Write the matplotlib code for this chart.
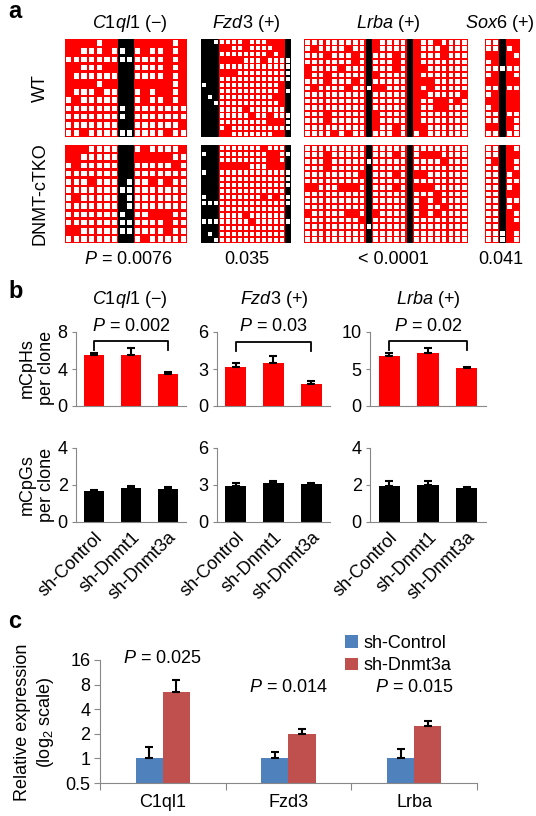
import matplotlib
matplotlib.use('Agg')
import matplotlib.pyplot as plt
from matplotlib.patches import Rectangle
from matplotlib.collections import PatchCollection
from matplotlib.ticker import FixedLocator, NullLocator
import numpy as np

plt.rcParams['font.family'] = ['Liberation Sans', 'DejaVu Sans']
plt.rcParams['mathtext.fontset'] = 'custom'
plt.rcParams['mathtext.rm'] = 'Liberation Sans'
plt.rcParams['mathtext.it'] = 'Liberation Sans:italic'
plt.rcParams['mathtext.bf'] = 'Liberation Sans:bold'

# ---------------- data: panel a (1 = methylated, 0 = unmethylated) ----------------
genes_a = ['C1ql1', 'Fzd3', 'Lrba', 'Sox6']
signs_a = ['\u2212', '+', '+', '+']
pvals_a = ['$P$ = 0.0076', '0.035', '< 0.0001', '0.041']
# column types: H = CpH site (red), G = CpG site (black)
types_c1ql1 = 'HHHHHHHGGHHHHHHH'
types_fzd3 = 'GGGHHHHHHHHHHHG'
types_lrba = 'HHHHHHHHHGHHHHHGHHHHHHHH'
types_sox6 = 'HHGHH'

c1ql1_wt = [
    '1111011' + '11' + '1111101',
    '1100010' + '01' + '0100101',
    '0000000' + '00' + '0000101',
    '1100011' + '11' + '0000101',
    '1000000' + '11' + '0000101',
    '1111011' + '11' + '1111101',
    '1000100' + '11' + '0101101',
    '0100000' + '11' + '0100101',
    '0000000' + '01' + '0000000',
    '0000000' + '01' + '0000000',
    '0000000' + '11' + '0000001',
    '0010000' + '00' + '0000100',
]
c1ql1_ko = [
    '1110000' + '11' + '0100001',
    '1100000' + '11' + '1111100',
    '0100000' + '11' + '0000010',
    '0000000' + '11' + '0000000',
    '0001000' + '10' + '0010100',
    '0000000' + '00' + '0000000',
    '0100000' + '10' + '0000000',
    '0000000' + '10' + '0000000',
    '0000000' + '01' + '0011100',
    '0000000' + '00' + '0000100',
    '1100000' + '00' + '0000100',
    '0000000' + '11' + '0100000',
]
fzd3_wt = [
    '110' + '00001000111' + '1',
    '111' + '11001000011' + '1',
    '111' + '00000000101' + '1',
    '111' + '11110001000' + '0',
    '111' + '00000000000' + '0',
    '111' + '11100000000' + '0',
    '111' + '00000000000' + '0',
    '011' + '00000000001' + '1',
    '111' + '00000000001' + '0',
    '101' + '00000000011' + '1',
    '110' + '00000000001' + '1',
    '111' + '00001000000' + '1',
    '111' + '00000100100' + '0',
    '111' + '00000000111' + '0',
    '111' + '01000000000' + '0',
    '111' + '11000000011' + '1',
]
fzd3_ko = [
    '111' + '00000001000' + '1',
    '011' + '00000000110' + '0',
    '111' + '00000000110' + '1',
    '111' + '11111000111' + '1',
    '011' + '00000000000' + '0',
    '111' + '00000000000' + '0',
    '111' + '00000000000' + '0',
    '111' + '00000000000' + '1',
    '011' + '00000001010' + '0',
    '000' + '00000000000' + '0',
    '111' + '00000000000' + '1',
    '111' + '00001000000' + '1',
    '000' + '00000100000' + '0',
    '111' + '00000000000' + '1',
    '101' + '00000000000' + '1',
    '110' + '00000000000' + '1',
]
lrba_wt = [
    '000000000' + '1' + '10000' + '1' + '10010000',
    '010000100' + '1' + '10000' + '1' + '10001000',
    '000100010' + '1' + '00010' + '1' + '10001000',
    '000000010' + '1' + '00010' + '1' + '10000000',
    '100001000' + '1' + '00010' + '1' + '11000000',
    '100100000' + '1' + '10000' + '1' + '10000000',
    '000100010' + '1' + '00000' + '1' + '11100000',
    '010000100' + '0' + '11000' + '1' + '10100000',
    '000000000' + '1' + '00000' + '1' + '11000001',
    '000000000' + '1' + '00000' + '1' + '10011010',
    '000000000' + '1' + '00000' + '1' + '10011000',
    '000100000' + '1' + '10000' + '1' + '10000000',
    '000100000' + '1' + '10000' + '1' + '10000000',
    '000000000' + '1' + '10010' + '1' + '11000000',
    '000010100' + '1' + '00010' + '1' + '01000000',
]
lrba_ko = [
    '000000000' + '1' + '00000' + '1' + '00000000',
    '000100000' + '1' + '00010' + '1' + '01110000',
    '000100000' + '0' + '00000' + '1' + '00001000',
    '000100000' + '1' + '00000' + '1' + '00000000',
    '000000001' + '1' + '00010' + '1' + '11000000',
    '000000000' + '1' + '00000' + '1' + '00000000',
    '110001110' + '1' + '00010' + '1' + '11100000',
    '000000000' + '1' + '00000' + '1' + '00010000',
    '000000000' + '1' + '00000' + '1' + '01010000',
    '000000000' + '1' + '00000' + '1' + '01001000',
    '100000110' + '1' + '10000' + '1' + '01010000',
    '000000001' + '1' + '00000' + '1' + '00000000',
    '000000000' + '0' + '00000' + '1' + '00000000',
    '000000000' + '1' + '00000' + '1' + '00000000',
    '000000000' + '1' + '00000' + '1' + '00000000',
]
sox6_wt = ['00111', '00101', '11110', '01111', '00000', '01110', '11111', '00100',
           '01111', '11111', '01111', '00100', '00110', '11110', '00100']
sox6_ko = ['00110', '00111', '01110', '00110', '00101', '00100', '00101', '00111',
           '00100', '00101', '00110', '00110', '00111', '00010', '00010']

# ---------------- data: panel b ----------------
b_genes = ['C1ql1', 'Fzd3', 'Lrba']
b_signs = ['\u2212', '+', '+']
b_groups = ['sh-Control', 'sh-Dnmt1', 'sh-Dnmt3a']
cph_vals = [[5.5, 5.5, 3.5], [3.2, 3.5, 1.8], [6.8, 7.2, 5.1]]
cph_errs = [[0.2, 0.8, 0.2], [0.3, 0.55, 0.2], [0.3, 0.6, 0.2]]
cpg_vals = [[1.65, 1.85, 1.8], [2.95, 3.15, 3.05], [1.95, 2.0, 1.85]]
cpg_errs = [[0.1, 0.1, 0.1], [0.25, 0.2, 0.1], [0.25, 0.2, 0.05]]
cph_ymax = [8, 6, 10]
cpg_ymax = [4, 6, 4]
b_pvals = ['$P$ = 0.002', '$P$ = 0.03', '$P$ = 0.02']
bracket_y = [7.0, 5.2, 8.8]

# ---------------- data: panel c ----------------
c_genes = ['C1ql1', 'Fzd3', 'Lrba']
c_ctrl = [1.0, 1.0, 1.0]
c_ctrl_err = [0.39, 0.21, 0.29]
c_kd = [6.55, 1.97, 2.49]
c_kd_err = [2.55, 0.30, 0.38]
c_pvals = ['$P$ = 0.025', '$P$ = 0.014', '$P$ = 0.015']
c_yticks = [0.5, 1, 2, 4, 8, 16]

# ---------------- figure ----------------
W, H = 536, 816
fig = plt.figure(figsize=(W / 100, H / 100), dpi=100)
RED = '#FF0000'


def px_axes(x0, y0, x1, y1):
    return fig.add_axes([x0 / W, 1 - y1 / H, (x1 - x0) / W, (y1 - y0) / H])


def ftext(x, y, s, **kw):
    kw.setdefault('ha', 'center')
    kw.setdefault('va', 'center')
    return fig.text(x / W, 1 - y / H, s, **kw)


def draw_grid(ax, types, rows, m=0.16):
    nr, nc = len(rows), len(types)
    base = []
    base_c = []
    for j, t in enumerate(types):
        base.append(Rectangle((j, 0), 1, nr))
        base_c.append('black' if t == 'G' else RED)
    ax.add_collection(PatchCollection(base, facecolors=base_c, edgecolors='none'))
    holes = []
    for i, row in enumerate(rows):
        for j, ch in enumerate(row):
            if ch == '0':
                holes.append(Rectangle((j + m, i + m * 0.9), 1 - 2 * m, 1 - 2 * m * 0.9))
    ax.add_collection(PatchCollection(holes, facecolors='white', edgecolors='none'))
    ax.set_xlim(0, nc)
    ax.set_ylim(nr, 0)
    ax.axis('off')


# panel a
ftext(8, 12, 'a', fontsize=17, fontweight='bold', ha='left')
grid_x = [(65, 187), (201, 291), (304, 468), (485, 520)]
types_all = [types_c1ql1, types_fzd3, types_lrba, types_sox6]
wt_all = [c1ql1_wt, fzd3_wt, lrba_wt, sox6_wt]
ko_all = [c1ql1_ko, fzd3_ko, lrba_ko, sox6_ko]
title_x = [130, 246, 388, 500]
pval_x = [128, 247, 393, 501]
for k in range(4):
    x0, x1 = grid_x[k]
    draw_grid(px_axes(x0, 39, x1, 137), types_all[k], wt_all[k])
    draw_grid(px_axes(x0, 145, x1, 243), types_all[k], ko_all[k])
    ftext(title_x[k], 23, r'$\mathit{%s}$ (%s)' % (genes_a[k], signs_a[k]), fontsize=13)
    ftext(pval_x[k], 260, pvals_a[k], fontsize=13)
ftext(40, 88, 'WT', fontsize=13, rotation=90)
ftext(40, 194, 'DNMT-cTKO', fontsize=13, rotation=90)

# panel b
ftext(8, 292, 'b', fontsize=17, fontweight='bold', ha='left')
b_x = [(76, 186), (217, 330), (370, 486)]
b_title_x = [130, 274, 428]
xs = np.arange(3)
for k in range(3):
    x0, x1 = b_x[k]
    ax1 = px_axes(x0, 332, x1, 406)
    ax2 = px_axes(x0, 448, x1, 522)
    for ax, vals, errs, ymax, col in [(ax1, cph_vals[k], cph_errs[k], cph_ymax[k], RED),
                                       (ax2, cpg_vals[k], cpg_errs[k], cpg_ymax[k], 'black')]:
        ax.bar(xs, vals, width=0.55, color=col, zorder=2)
        ax.errorbar(xs, vals, yerr=[np.zeros(3), errs], fmt='none', ecolor='black',
                    elinewidth=1.5, capsize=3, capthick=1.5, zorder=3)
        ax.set_xlim(-0.5, 2.5)
        ax.set_ylim(0, ymax)
        ax.set_yticks([0, ymax / 2, ymax])
        ax.set_yticklabels(['0', '%g' % (ymax / 2), '%g' % ymax], fontsize=13)
        for s in ['top', 'right']:
            ax.spines[s].set_visible(False)
        for s in ['left', 'bottom']:
            ax.spines[s].set_color('#888888')
        ax.tick_params(axis='y', length=3, color='#888888', pad=3)
        ax.tick_params(axis='x', length=0)
        ax.set_facecolor('none')
    ax1.set_xticks([])
    ax2.set_xticks(xs)
    ax2.set_xticklabels(b_groups, rotation=45, ha='right', rotation_mode='anchor', fontsize=13)
    ax2.tick_params(axis='x', pad=5)
    by = bracket_y[k]
    leg = cph_ymax[k] * 0.12
    ax1.plot([0, 0, 2, 2], [by - leg, by, by, by - leg], color='black', lw=1.3,
             clip_on=False, zorder=4)
    ax1.text(1, 1.07, b_pvals[k], ha='center', va='center', fontsize=13,
             transform=ax1.get_xaxis_transform())
    ftext(b_title_x[k], 300, r'$\mathit{%s}$ (%s)' % (b_genes[k], b_signs[k]), fontsize=13)
ftext(37, 368, 'mCpHs\nper clone', fontsize=13, rotation=90, linespacing=1.2)
ftext(37, 485, 'mCpGs\nper clone', fontsize=13, rotation=90, linespacing=1.2)

# panel c
ftext(8, 622, 'c', fontsize=17, fontweight='bold', ha='left')
axc = px_axes(100, 660, 477, 783)
cx = np.arange(3)
bw = 0.215
axc.bar(cx - bw / 2, np.array(c_ctrl) - 0.5, bottom=0.5, width=bw, color='#4F81BD', label='sh-Control', zorder=2)
axc.bar(cx + bw / 2, np.array(c_kd) - 0.5, bottom=0.5, width=bw, color='#C0504D', label='sh-Dnmt3a', zorder=2)
axc.errorbar(cx - bw / 2, c_ctrl, yerr=[np.zeros(3), c_ctrl_err], fmt='none', ecolor='black',
             elinewidth=1.5, capsize=3, capthick=1.5, zorder=3)
axc.errorbar(cx + bw / 2, c_kd, yerr=[np.zeros(3), c_kd_err], fmt='none', ecolor='black',
             elinewidth=1.5, capsize=3, capthick=1.5, zorder=3)
axc.set_yscale('log', base=2)
axc.set_ylim(0.5, 16)
axc.set_xlim(-0.5, 2.5)
axc.yaxis.set_major_locator(FixedLocator(c_yticks))
axc.yaxis.set_minor_locator(NullLocator())
axc.set_yticklabels(['%g' % v for v in c_yticks], fontsize=13)
axc.xaxis.set_major_locator(FixedLocator([-0.5, 0.5, 1.5, 2.5]))
axc.set_xticklabels([])
axc.xaxis.set_minor_locator(FixedLocator(list(cx)))
axc.set_xticklabels(c_genes, minor=True, fontsize=13)
axc.tick_params(axis='x', which='major', length=5, color='#888888')
axc.tick_params(axis='x', which='minor', length=0, pad=8)
axc.tick_params(axis='y', length=4, color='#888888', pad=3)
for s in ['top', 'right']:
    axc.spines[s].set_visible(False)
for s in ['left', 'bottom']:
    axc.spines[s].set_color('#888888')
axc.set_facecolor('none')
p_y = [16.5, 7.4, 7.4]
for k in range(3):
    axc.text(cx[k], p_y[k], c_pvals[k], ha='center', va='center', fontsize=13, clip_on=False)
leg = axc.legend(loc='upper left', bbox_to_anchor=(345 / W, 1 - 635 / H), bbox_transform=fig.transFigure,
                 frameon=False, fontsize=13, handlelength=0.7, handleheight=0.7, handletextpad=0.3,
                 labelspacing=0.3, borderpad=0, borderaxespad=0)
ftext(35, 722, 'Relative expression\n(log$_2$ scale)', fontsize=13, rotation=90, linespacing=1.2)

fig.savefig('out.png', dpi=100)
